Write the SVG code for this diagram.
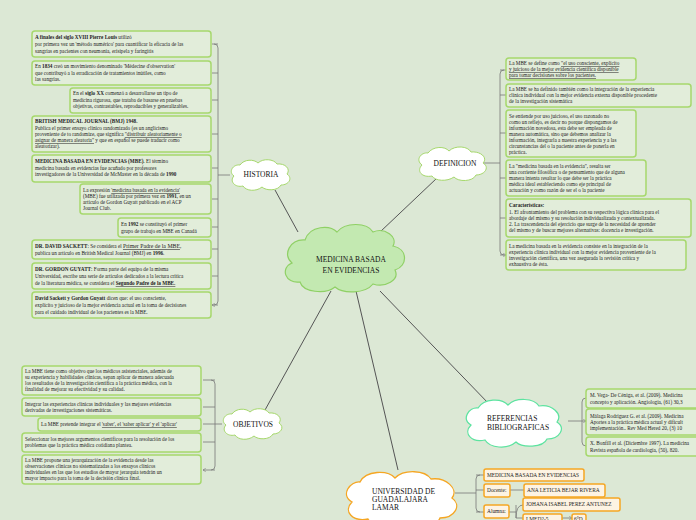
<svg xmlns="http://www.w3.org/2000/svg" width="696" height="520" viewBox="0 0 696 520">
<defs>
<style>
.b{fill:#e2edda;stroke:#a6d86c;stroke-width:1.5}
.o{fill:#fdf3e3;stroke:#f5a623;stroke-width:1.5}
.t{font-family:"Liberation Serif",serif;font-size:5.2px;fill:#222}
.ot{font-family:"Liberation Serif",serif;font-size:5.4px;fill:#222}
.bd{font-weight:bold}
.u{text-decoration:underline}
.c{font-family:"Liberation Serif",serif;font-size:7.5px;fill:#111}
.ln{stroke:#555;stroke-width:1;fill:none}
.br{stroke:#777;stroke-width:0.8;fill:none}
</style>
<marker id="a" markerWidth="4" markerHeight="4" refX="3.5" refY="2" orient="auto"><path d="M0,0L4,2L0,4" fill="none" stroke="#777" stroke-width="0.7"/></marker>
</defs>
<rect width="696" height="520" fill="#dce8d5"/>
<g id="connectors">
<line class="ln" x1="298" y1="232" x2="275" y2="190"/>
<line class="ln" x1="380" y1="232" x2="437" y2="178"/>
<line class="ln" x1="331" y1="291" x2="265" y2="410"/>
<line class="ln" x1="356" y1="291" x2="398" y2="470"/>
<line class="ln" x1="380" y1="291" x2="490" y2="405"/>
<path class="br" d="M230,175H218M214,44Q218,44 218,48V301Q218,305 214,305"/>
<g marker-end="url(#a)" class="br"><path d="M218,44H212M218,73H212M218,100H212M218,134H212M218,168H212M218,199H212M218,227H212M218,249H212M218,276H212M218,305H212"/></g>
<path class="br" d="M420,163H500M504,70Q500,70 500,74V251Q500,255 504,255"/>
<g marker-end="url(#a)" class="br"><path d="M500,70H506M500,95H506M500,133H506M500,178H506M500,218H506M500,255H506"/></g>
<path class="br" d="M222,424H215M211,380Q215,380 215,384V466Q215,470 211,470"/>
<g marker-end="url(#a)" class="br"><path d="M215,380H203M215,407H203M215,424H203M215,442H203M215,470H203"/></g>
<path class="br" d="M568,421H582M586,398Q582,398 582,402V442Q582,446 586,446"/>
<g marker-end="url(#a)" class="br"><path d="M582,421H586"/></g>
<path class="br" d="M455,493H476M480,475Q476,475 476,479V508Q476,512 480,512"/>
<g marker-end="url(#a)" class="br"><path d="M476,475H484M476,490H484M476,512H484M510,490H524M509,512H516M516,505V518Q516,505 523,505M516,518H523M562,518H572"/></g>
</g>
<g id="center"><path d="M305,240c5-15,25-15,32-8c8-10,30-10,36,0c12-5,25,5,20,14c15,3,15,20,2,24c5,10-10,18-22,14c-8,10-30,10-38,3c-10,8-32,5-35-5c-15,2-20-14-8-19c-10-8-2-24,13-23z" fill="#c3e9b1" stroke="#8fd065" stroke-width="1.2"/>
<text class="c" x="351" y="262" text-anchor="middle">MEDICINA BASADA</text><text class="c" x="351" y="273" text-anchor="middle">EN EVIDENCIAS</text></g>
<g id="historia"><path d="M240,165c4-6,14-6,18-2c5-5,16-4,19,1c8-1,14,5,10,10c6,4,2,11-6,11c-3,6-15,6-19,2c-6,5-16,4-19-1c-8,2-14-5-9-10c-6-4-1-12,6-11z" fill="#fff" stroke="#a6d86c" stroke-width="1"/>
<text class="c" x="261" y="177" text-anchor="middle">HISTORIA</text></g>
<g id="definicion"><path d="M428,153c5-7,17-7,21-2c6-6,19-5,22,1c10-1,17,6,12,11c7,4,2,12-7,12c-3,7-18,7-22,2c-7,5-19,4-22-1c-10,2-16-5-10-11c-7-5-1-13,6-12z" fill="#fff" stroke="#a6d86c" stroke-width="1"/>
<text class="c" x="455" y="166" text-anchor="middle">DEFINICION</text></g>
<g id="objetivos"><path d="M232,414c4-6,14-6,18-2c5-5,16-4,19,1c8-1,14,5,10,10c6,4,2,11-6,11c-3,6-15,6-19,2c-6,5-16,4-19-1c-8,2-14-5-9-10c-6-4-1-12,6-11z" fill="#fff" stroke="#a6d86c" stroke-width="1"/>
<text class="c" x="253" y="427" text-anchor="middle">OBJETIVOS</text></g>
<g id="referencias"><path d="M478,408c6-10,24-10,30-3c8-8,26-7,31,1c13-2,24,8,18,16c9,6,3,17-10,17c-4,9-25,9-31,3c-9,8-26,6-31-2c-14,3-22-7-14-15c-10-6-2-18,7-17z" fill="#fff" stroke="#5de3a0" stroke-width="1.2"/>
<text class="c" x="487" y="421" font-size="6.5">REFERENCIAS</text><text class="c" x="487" y="430" font-size="6.5">BIBLIOGRAFICAS</text></g>
<g id="universidad"><path d="M360,482c6-12,28-12,35-4c9-9,30-8,36,1c15-2,28,10,21,19c10,7,3,20-12,20c-4,10-29,10-36,3c-10,9-30,7-36-2c-16,3-25-8-16-17c-12-7-2-21,8-20z" fill="#fff" stroke="#f5a623" stroke-width="1.3"/>
<text class="c" x="372" y="494">UNIVERSIDAD DE</text><text class="c" x="372" y="502">GUADALAJARA</text><text class="c" x="372" y="510">LAMAR</text></g>
<g id="h1"><rect class="b" x="32" y="31" width="179" height="26" rx="3"/><text class="t" x="35" y="39"><tspan class="bd">A finales del siglo XVIII Pierre Louis</tspan> utilizó</text><text class="t" x="35" y="46">por primera vez un 'método numérico' para cuantificar la eficacia de las</text><text class="t" x="35" y="53">sangrías en pacientes con neumonía, erisipela y faringitis</text></g>
<g id="h2"><rect class="b" x="32" y="61" width="179" height="24" rx="3"/><text class="t" x="35" y="68">En <tspan class="bd">1834</tspan> creó un movimiento denominado 'Médecine d'observation'</text><text class="t" x="35" y="75">que contribuyó a la erradicación de tratamientos inútiles, como</text><text class="t" x="35" y="81">las sangrías.</text></g>
<g id="h3"><rect class="b" x="70" y="88" width="141" height="25" rx="3"/><text class="t" x="73" y="95">En el <tspan class="bd">siglo XX</tspan> comenzó a desarrollarse un tipo de</text><text class="t" x="73" y="102">medicina rigurosa, que trataba de basarse en pruebas</text><text class="t" x="73" y="108">objetivas, contrastables, reproducibles y generalizables.</text></g>
<g id="h4"><rect class="b" x="32" y="116" width="179" height="36" rx="3"/><text class="t bd" x="35" y="123">BRITISH MEDICAL JOURNAL (BMJ) 1948.</text><text class="t" x="35" y="130">Publica el primer ensayo clínico randomizado (es un anglicismo</text><text class="t" x="35" y="136">proveniente de to randomize, que significa <tspan class="u">"distribuir aleatoriamente o</tspan></text><text class="t" x="35" y="142"><tspan class="u">asignar de manera aleatoria"</tspan> y que en español se puede traducir como</text><text class="t" x="35" y="148">aleatorizar).</text></g>
<g id="h5"><rect class="b" x="32" y="155" width="179" height="27" rx="3"/><text class="t" x="35" y="163"><tspan class="bd">MEDICINA BASADA EN EVIDENCIAS (MBE).</tspan> El término</text><text class="t" x="35" y="170">medicina basada en evidencias fue acuñado por profesores</text><text class="t" x="35" y="176">investigadores de la Universidad de McMaster en la década de <tspan class="bd">1990</tspan></text></g>
<g id="h6"><rect class="b" x="80" y="184" width="131" height="30" rx="3"/><text class="t" x="83" y="192">La expresión <tspan class="u">'medicina basada en la evidencia'</tspan></text><text class="t" x="83" y="198">(MBE) fue utilizada por primera vez en <tspan class="bd">1991</tspan>, en un</text><text class="t" x="83" y="204">artículo de Gordon Guyatt publicado en el ACP</text><text class="t" x="83" y="210">Journal Club.</text></g>
<g id="h7"><rect class="b" x="118" y="218" width="93" height="19" rx="3"/><text class="t" x="121" y="226">En <tspan class="bd">1992</tspan> se constituyó el primer</text><text class="t" x="121" y="233">grupo de trabajo en MBE en Canadá</text></g>
<g id="h8"><rect class="b" x="32" y="240" width="179" height="19" rx="3"/><text class="t" x="35" y="248"><tspan class="bd">DR. DAVID SACKETT</tspan>: Se considera el <tspan class="u" font-size="5.8">Primer Padre de la MBE</tspan>,</text><text class="t" x="35" y="255">publica un artículo en British Medical Journal (BMJ) en <tspan class="bd">1996</tspan>.</text></g>
<g id="h9"><rect class="b" x="32" y="263" width="179" height="26" rx="3"/><text class="t" x="35" y="271"><tspan class="bd">DR. GORDON GUYATT</tspan>: Forma parte del equipo de la misma</text><text class="t" x="35" y="278">Universidad, escribe una serie de artículos dedicados a la lectura crítica</text><text class="t" x="35" y="285">de la literatura médica, se considera el <tspan class="u bd">Segundo Padre de la MBE.</tspan></text></g>
<g id="h10"><rect class="b" x="32" y="292" width="179" height="26" rx="3"/><text class="t" x="35" y="300"><tspan class="bd">David Sackett y Gordon Guyatt</tspan> dicen que: el uso consciente,</text><text class="t" x="35" y="307">explícito y juicioso de la mejor evidencia actual en la toma de decisiones</text><text class="t" x="35" y="314">para el cuidado individual de los pacientes es la MBE.</text></g>
<g id="d1"><rect class="b" x="506" y="58" width="130" height="22" rx="3"/><text class="t" x="509" y="65">La MBE se define como <tspan class="u">"el uso consciente, explícito</tspan></text><text class="t u" x="509" y="71">y juicioso de la mejor evidencia científica disponible</text><text class="t u" x="509" y="77">para tomar decisiones sobre los pacientes.</text></g>
<g id="d2"><rect class="b" x="506" y="84" width="185" height="23" rx="3"/><text class="t" x="509" y="91">La MBE se ha definido también como la integración de la experiencia</text><text class="t" x="509" y="97">clínica individual con la mejor evidencia externa disponible procedente</text><text class="t" x="509" y="103">de la investigación sistemática</text></g>
<g id="d3"><rect class="b" x="506" y="110" width="130" height="47" rx="3"/><text class="t" x="509" y="118">Se entiende por uso juicioso, el uso razonado no</text><text class="t" x="509" y="124">como un reflejo, es decir no porque dispongamos de</text><text class="t" x="509" y="130">información novedosa, esta debe ser empleada de</text><text class="t" x="509" y="136">manera automática, sino que debemos analizar la</text><text class="t" x="509" y="142">información, integrarla a nuestra experiencia y a las</text><text class="t" x="509" y="148">circunstancias del o la paciente antes de ponerla en</text><text class="t" x="509" y="154">práctica.</text></g>
<g id="d4"><rect class="b" x="506" y="160" width="140" height="36" rx="3"/><text class="t" x="509" y="168">La "medicina basada en la evidencia", resulta ser</text><text class="t" x="509" y="174">una corriente filosófica o de pensamiento que de alguna</text><text class="t" x="509" y="180">manera intenta resaltar lo que debe ser la práctica</text><text class="t" x="509" y="186">médica ideal estableciendo como eje principal de</text><text class="t" x="509" y="192">actuación y como razón de ser el o la paciente</text></g>
<g id="d5"><rect class="b" x="506" y="199" width="185" height="38" rx="3"/><text class="t bd" x="509" y="207">Características:</text><text class="t" x="509" y="214">1. El afrontamiento del problema con su respectiva lógica clínica para el</text><text class="t" x="509" y="220">abordaje del mismo y su resolución individualizada y contextualizada.</text><text class="t" x="509" y="226">2. La trascendencia del ejercicio que surge de la necesidad de aprender</text><text class="t" x="509" y="232">del mismo y de buscar mejores alternativas: docencia e investigación.</text></g>
<g id="d6"><rect class="b" x="506" y="240" width="180" height="30" rx="3"/><text class="t" x="509" y="248">La medicina basada en la evidencia consiste en la integración de la</text><text class="t" x="509" y="254">experiencia clínica individual con la mejor evidencia proveniente de la</text><text class="t" x="509" y="260">investigación científica, una vez asegurada la revisión crítica y</text><text class="t" x="509" y="266">exhaustiva de ésta.</text></g>
<g id="o1"><rect class="b" x="22" y="366" width="179" height="29" rx="3"/><text class="t" x="25" y="373">La MBE tiene como objetivo que los médicos asistenciales, además de</text><text class="t" x="25" y="379">su experiencia y habilidades clínicas, sepan aplicar de manera adecuada</text><text class="t" x="25" y="385">los resultados de la investigación científica a la práctica médica, con la</text><text class="t" x="25" y="391">finalidad de mejorar su efectividad y su calidad.</text></g>
<g id="o2"><rect class="b" x="22" y="398" width="179" height="18" rx="3"/><text class="t" x="25" y="406">Integrar las experiencias clínicas individuales y las mejores evidencias</text><text class="t" x="25" y="412">derivadas de investigaciones sistemáticas.</text></g>
<g id="o3"><rect class="b" x="38" y="418" width="163" height="13" rx="3"/><text class="t" x="41" y="426">La MBE pretende integrar el <tspan class="u">'saber', el 'saber aplicar' y el 'aplicar'</tspan></text></g>
<g id="o4"><rect class="b" x="22" y="433" width="179" height="19" rx="3"/><text class="t" x="25" y="441">Seleccionar los mejores argumentos científicos para la resolución de los</text><text class="t" x="25" y="447">problemas que la práctica médica cotidiana plantea.</text></g>
<g id="o5"><rect class="b" x="22" y="455" width="179" height="29" rx="3"/><text class="t" x="25" y="462">La MBE propone una jerarquización de la evidencia desde las</text><text class="t" x="25" y="468">observaciones clínicas no sistematizadas a los ensayos clínicos</text><text class="t" x="25" y="474">individuales en las que los estudios de mayor jerarquía tendrán un</text><text class="t" x="25" y="480">mayor impacto para la toma de la decisión clínica final.</text></g>
<g id="r1"><rect class="b" x="586" y="389" width="115" height="19" rx="3"/><text class="t" x="590" y="397">M. Vega- De Céniga, et al. (2009). Medicina</text><text class="t" x="590" y="404">concepto y aplicación. Angiología, (61) 30,3</text></g>
<g id="r2"><rect class="b" x="586" y="409" width="115" height="26" rx="3"/><text class="t" x="590" y="418">Málaga Rodríguez G. et al. (2009). Medicina</text><text class="t" x="590" y="424">Aportes a la práctica médica actual y dificult</text><text class="t" x="590" y="430">implementación.. Rev Med Hered 20, (3) 10</text></g>
<g id="r3"><rect class="b" x="586" y="437" width="115" height="19" rx="3"/><text class="t" x="590" y="445">X. Bonfill et al. (Diciembre 1997). La medicina</text><text class="t" x="590" y="452">Revista española de cardiología, (50), 820.</text></g>
<g id="u1"><rect class="o" x="484" y="469" width="100" height="12" rx="2"/><text class="ot" x="487" y="477">MEDICINA BASADA EN EVIDENCIAS</text></g>
<g id="u2"><rect class="o" x="484" y="484" width="26" height="13" rx="2"/><text class="ot" x="487" y="492">Docente:</text></g>
<g id="u3"><rect class="o" x="524" y="484" width="81" height="13" rx="2"/><text class="ot" x="527" y="492">ANA LETICIA BEJAR RIVERA</text></g>
<g id="u4"><rect class="o" x="523" y="498" width="97" height="13" rx="2"/><text class="ot" x="526" y="506">JOHANA ISABEL PEREZ ANTUNEZ</text></g>
<g id="u5"><rect class="o" x="484" y="505" width="25" height="13" rx="2"/><text class="ot" x="487" y="513">Alumna:</text></g>
<g id="u6"><rect class="o" x="523" y="514" width="39" height="10" rx="2"/><text class="ot" x="526" y="521">LMED2-5</text></g>
<g id="u7"><rect class="o" x="572" y="514" width="14" height="10" rx="2"/><text class="ot" x="574" y="521">6°D</text></g>
</svg>
